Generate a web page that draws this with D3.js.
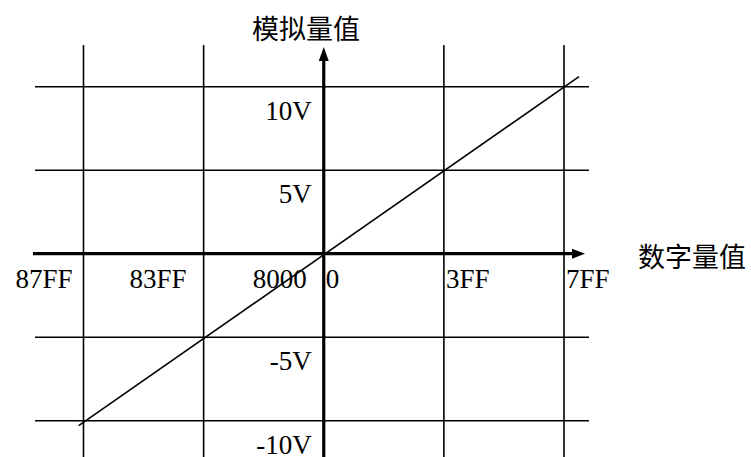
<!DOCTYPE html>
<html>
<head>
<meta charset="utf-8">
<script src="https://cdn.jsdelivr.net/npm/d3@7"></script>
<style>
  html, body { margin: 0; padding: 0; background: #fff; }
  svg { display: block; }
</style>
</head>
<body>
<svg id="chart" width="751" height="457"></svg>
<script>
// ---- data ----
const gridXUnits = [-2, -1, 1, 2];                 // vertical grid lines (code units)
const gridYVolts = [-10, -5, 5, 10];               // horizontal grid lines (V)
const xTickLabels = ["87FF", "83FF", "8000", "0", "3FF", "7FF"];
const xTickUnits  = [-2, -1, 0, 0, 1, 2];
const xTickSide   = ["left", "left", "left", "right", "right", "right"];
const yTickLabels = ["10V", "5V", "-5V", "-10V"];
const yTickVolts  = [10, 5, -5, -10];
const lineUnits = [-2.04, 2.125];                  // transfer line endpoints (code units)
const lineVolts = [-10.3, 10.6];                   // transfer line endpoints (V)
const xAxisTitle = "数字量值";
const yAxisTitle = "模拟量值";

// ---- scales ----
const x = d3.scaleLinear().domain([-2, 2]).range([83.5, 564]);
const y = d3.scaleLinear().domain([-10, 10]).range([420.7, 86.7]);

const svg = d3.select("#chart");
const serif = "'Liberation Serif','Times New Roman',serif";
const cjk = "'Noto Sans CJK SC','Noto Sans',sans-serif";

// grid extents (data units)
const gxMin = x.invert(35), gxMax = x.invert(589);
const gyTop = y.invert(45), gyBot = y.invert(460);

// horizontal grid
svg.append("g").selectAll("line").data(gridYVolts).join("line")
  .attr("x1", x(gxMin)).attr("x2", x(gxMax))
  .attr("y1", d => y(d)).attr("y2", d => y(d))
  .attr("stroke", "#000").attr("stroke-width", 1.6);

// vertical grid
svg.append("g").selectAll("line").data(gridXUnits).join("line")
  .attr("x1", d => x(d)).attr("x2", d => x(d))
  .attr("y1", y(gyTop)).attr("y2", y(gyBot))
  .attr("stroke", "#000").attr("stroke-width", 1.6);

// transfer line
const pts = lineUnits.map((u, i) => [x(u), y(lineVolts[i])]);
svg.append("path")
  .attr("d", d3.line()(pts))
  .attr("stroke", "#000").attr("stroke-width", 1.6).attr("fill", "none");

// axes
const x0 = x(0), y0 = y(0);
const xAxEnd = x.invert(585), xAxStart = x.invert(33);
const yAxTop = y.invert(47), yAxBot = y.invert(460);
svg.append("line")
  .attr("x1", x(xAxStart)).attr("x2", x(xAxEnd) - 10)
  .attr("y1", y0).attr("y2", y0)
  .attr("stroke", "#000").attr("stroke-width", 3.2);
svg.append("path")
  .attr("d", `M${x(xAxEnd)},${y0} L${x(xAxEnd) - 13},${y0 - 5} L${x(xAxEnd) - 13},${y0 + 5} Z`)
  .attr("fill", "#000");
svg.append("line")
  .attr("x1", x0).attr("x2", x0)
  .attr("y1", y(yAxBot)).attr("y2", y(yAxTop) + 10)
  .attr("stroke", "#000").attr("stroke-width", 3.2);
svg.append("path")
  .attr("d", `M${x0},${y(yAxTop)} L${x0 - 5},${y(yAxTop) + 14} L${x0 + 5},${y(yAxTop) + 14} Z`)
  .attr("fill", "#000");

// x tick labels
svg.append("g").selectAll("text").data(xTickLabels).join("text")
  .attr("x", (d, i) => xTickSide[i] === "left" ? x(xTickUnits[i]) - (i === 0 ? 11 : 17) : x(xTickUnits[i]) + 2)
  .attr("y", y0 + 34)
  .attr("text-anchor", (d, i) => xTickSide[i] === "left" ? "end" : "start")
  .attr("font-family", serif).attr("font-size", 27)
  .text(d => d);

// y tick labels
svg.append("g").selectAll("text").data(yTickLabels).join("text")
  .attr("x", x0 - 12)
  .attr("y", (d, i) => y(yTickVolts[i]) + 33)
  .attr("text-anchor", "end")
  .attr("font-family", serif).attr("font-size", 27)
  .text(d => d);

// axis titles
svg.append("text")
  .attr("x", 306).attr("y", 39)
  .attr("text-anchor", "middle")
  .attr("font-family", cjk).attr("font-size", 27)
  .text(yAxisTitle);
svg.append("text")
  .attr("x", 692).attr("y", 267)
  .attr("text-anchor", "middle")
  .attr("font-family", cjk).attr("font-size", 27)
  .text(xAxisTitle);
</script>
</body>
</html>
